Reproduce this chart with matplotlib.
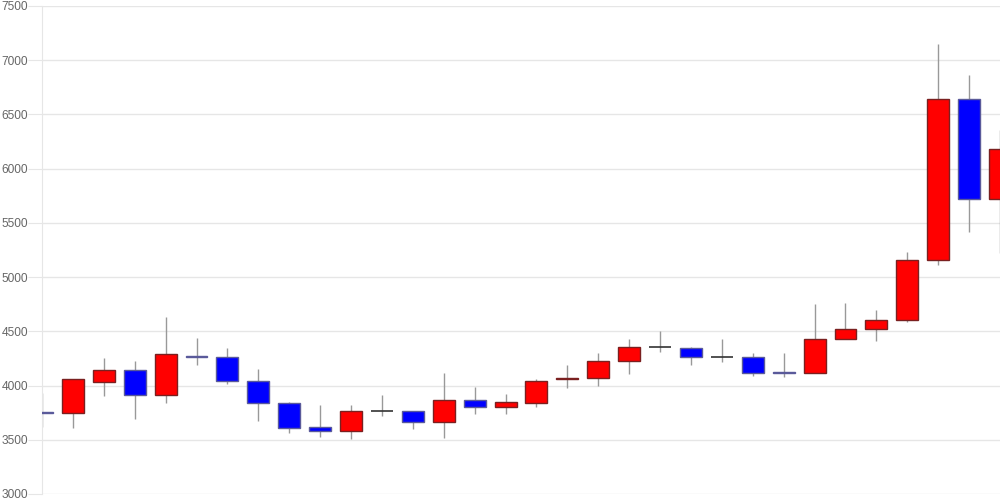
import matplotlib
matplotlib.use('Agg')
import matplotlib.pyplot as plt
import numpy as np

plt.rcParams['font.family'] = ['Liberation Sans', 'DejaVu Sans']

opens = [3760, 3750, 4030, 4140, 3910, 4270, 4260, 4040, 3835, 3615, 3580, 3765, 3765, 3660, 3865, 3800,
         3840, 4060, 4070, 4230, 4360, 4345, 4260, 4260, 4125, 4115, 4430, 4520, 4600, 5160, 6640, 5720]
closes = [3745, 4060, 4140, 3910, 4290, 4265, 4040, 3835, 3610, 3580, 3765, 3765, 3660, 3865, 3800, 3845,
          4040, 4072, 4230, 4360, 4360, 4260, 4260, 4120, 4120, 4430, 4520, 4600, 5160, 6640, 5720, 6180]
highs = [3930, 4060, 4250, 4225, 4630, 4440, 4345, 4155, 3850, 3820, 3820, 3910, 3765, 4120, 3985, 3920,
         4060, 4190, 4300, 4430, 4500, 4360, 4430, 4300, 4300, 4750, 4760, 4700, 5230, 7150, 6860, 6360]
lows = [3620, 3610, 3900, 3690, 3840, 4190, 4015, 3670, 3560, 3530, 3510, 3720, 3600, 3520, 3740, 3740,
        3800, 3980, 4000, 4110, 4310, 4190, 4220, 4090, 4080, 4113, 4429, 4415, 4590, 5110, 5420, 5220]
yticks = [3000, 3500, 4000, 4500, 5000, 5500, 6000, 6500, 7000, 7500]

fig = plt.figure(figsize=(10, 5), dpi=100)
ax = fig.add_axes([0.042, 0.012, 0.958, 0.976])

x = np.arange(len(opens))
o = np.array(opens)
c = np.array(closes)

ax.vlines(x, lows, highs, color='#999999', linewidth=1, zorder=2)

for i in range(len(x)):
    if o[i] == c[i]:
        ax.hlines(o[i], x[i] - 0.36, x[i] + 0.36, color='#333333', linewidth=1.2, zorder=3)
        continue
    col = '#ff0000' if c[i] > o[i] else '#0000ff'
    edge = '#7a2020' if c[i] > o[i] else '#5a5a9a'
    ax.bar(x[i], c[i] - o[i], bottom=o[i], width=0.71, color=col,
           edgecolor=edge, linewidth=1, zorder=3)

ax.set_xlim(0, len(x) - 1)
ax.set_ylim(3000, 7500)
ax.set_yticks(yticks)
ax.set_xticks([])
ax.grid(True, axis='y', color='#e6e6e6', linewidth=1, zorder=0)
ax.tick_params(axis='y', length=10, color='#e6e6e6', labelsize=8.6, labelcolor='#666666', pad=0)
for s in ['top', 'right', 'bottom']:
    ax.spines[s].set_visible(False)
ax.spines['left'].set_color('#e6e6e6')

plt.savefig('out.png', dpi=100)
